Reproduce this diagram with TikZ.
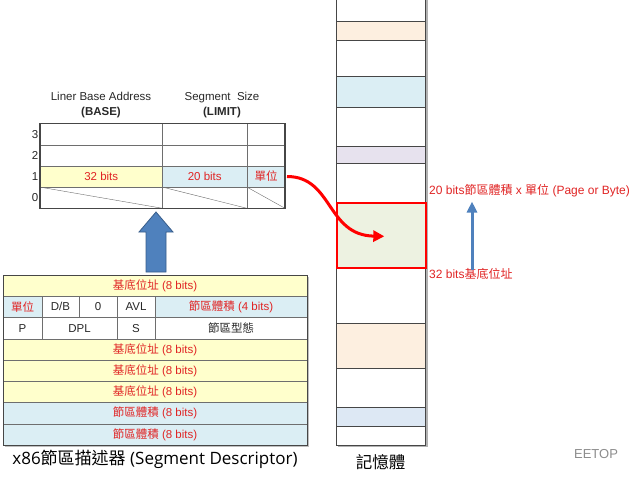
\documentclass[tikz,border=0pt]{standalone}
\usepackage{fontspec}
\setmainfont{Liberation Sans}
\newfontfamily\cjk{Noto Sans CJK TC}
\newfontfamily\capfont{Open Sans}
\newcommand\zh[1]{{\cjk #1}}
\usetikzlibrary{arrows.meta, calc, positioning}
\definecolor{redText}{RGB}{224,36,36}
\definecolor{inkGray}{RGB}{40,40,40}
\definecolor{lineGray}{RGB}{110,110,110}
\definecolor{edgeGray}{RGB}{70,70,70}
\definecolor{baseYellow}{RGB}{255,255,204}
\definecolor{sizeBlue}{RGB}{219,238,244}
\definecolor{memPeach}{RGB}{253,239,224}
\definecolor{memBlue}{RGB}{219,238,244}
\definecolor{memLilac}{RGB}{231,226,238}
\definecolor{memGreen}{RGB}{237,242,225}
\definecolor{memSky}{RGB}{221,232,244}
\definecolor{arrowBlue}{RGB}{79,129,189}
\definecolor{arrowEdge}{RGB}{56,93,138}

\begin{document}
\begin{tikzpicture}[x=1pt, y=-1pt,
  cell/.style={draw=lineGray, anchor=north west, minimum height=21.2pt,
               inner sep=0pt, outer sep=0pt,
               font=\fontsize{11.5}{13}\selectfont, text=inkGray},
  dcell/.style={cell, minimum height=21.25pt},
  hdr/.style={align=center, font=\fontsize{11.5}{15}\selectfont, text=inkGray},
  redtxt/.style={text=redText},
  memline/.style={draw=edgeGray, line width=0.7pt},
  bigup/.style={fill=arrowBlue, draw=arrowEdge, line width=0.8pt},
  thinup/.style={-{Triangle[length=11pt, width=10pt]}, line width=3pt, arrowBlue},
  curvy/.style={-{Triangle[length=11pt, width=11pt]}, line width=3pt, red}
]
  \useasboundingbox (0,0) rectangle (640,479);

  % limit / base table
  \node[hdr] (basehdr) at (101,105.5) {Liner Base Address\\\textbf{(BASE)}};
  \node[hdr] (limhdr) at (222,105.5) {Segment\ \ Size\\\textbf{(LIMIT)}};
  \foreach \r/\y in {3/123.5, 2/144.7, 0/187.1} {
    \node[cell, minimum width=122.5pt] (base\r) at (40,\y) {};
    \node[cell, minimum width=84.5pt] (lim\r) at (162.5,\y) {};
    \node[cell, minimum width=38pt] (unit\r) at (247,\y) {};
  }
  \node[cell, minimum width=122.5pt, fill=baseYellow, redtxt] (base1) at (40,165.9) {32 bits};
  \node[cell, minimum width=84.5pt, fill=sizeBlue, redtxt] (lim1) at (162.5,165.9) {20 bits};
  \node[cell, minimum width=38pt, fill=sizeBlue, redtxt] (unit1) at (247,165.9) {\zh{單位}};
  \foreach \r/\y in {3/123.5, 2/144.7, 1/165.9, 0/187.1}
    \node[anchor=east, inner sep=0pt, font=\fontsize{11.5}{13}\selectfont, text=inkGray] at (38.5,\y+10.6) {\r};
  \foreach \c in {base0, lim0, unit0}
    \draw[lineGray, thin] (\c.north west) -- (\c.south east);
  \draw[edgeGray, line width=1.1pt] (base3.north west) rectangle (unit0.south east);

  % big arrow
  \coordinate (uptip) at (156,212);
  \coordinate (upbase) at (156,272);
  \draw[bigup] ($(upbase)+(-10,0)$) -- ($(uptip)+(-10,20)$) -- ($(uptip)+(-17,20)$)
    -- (uptip) -- ($(uptip)+(17,20)$) -- ($(uptip)+(10,20)$) -- ($(upbase)+(10,0)$) -- cycle;

  % segment descriptor
  \fill[black!25] (5,277) rectangle (309,447);
  \foreach \k/\f in {0/baseYellow, 3/baseYellow, 4/baseYellow, 5/baseYellow, 6/sizeBlue, 7/sizeBlue}
    \node[dcell, minimum width=304pt, fill=\f, redtxt]
      (row\k) at (3,275+21.25*\k) {\ifnum\k<6 \zh{基底位址} (8 bits)\else \zh{節區體積} (8 bits)\fi};
  \node[dcell, minimum width=39pt, fill=sizeBlue, redtxt] (gran) at (3,296.25) {\zh{單位}};
  \node[dcell, minimum width=37pt, fill=white] (db) at (42,296.25) {D/B};
  \node[dcell, minimum width=38pt, fill=white] (zero) at (79,296.25) {0};
  \node[dcell, minimum width=38pt, fill=white] (avl) at (117,296.25) {AVL};
  \node[dcell, minimum width=152pt, fill=sizeBlue, redtxt] (lim4) at (155,296.25) {\zh{節區體積} (4 bits)};
  \node[dcell, minimum width=39pt, fill=white] (pres) at (3,317.5) {P};
  \node[dcell, minimum width=75pt, fill=white] (dpl) at (42,317.5) {DPL};
  \node[dcell, minimum width=38pt, fill=white] (sys) at (117,317.5) {S};
  \node[dcell, minimum width=152pt, fill=white] (stype) at (155,317.5) {\zh{節區型態}};
  \draw[edgeGray, line width=0.9pt] (row0.north west) rectangle (row7.south east);
  \node[font=\capfont\fontsize{17}{20}\selectfont, text=black] (desccap) at (155,459)
    {x86\zh{節區描述器} (Segment Descriptor)};

  % memory
  \foreach \a/\b/\f in {0/21/white, 21/40/memPeach, 40/76/white, 76/107/memBlue,
                        107/146/white, 146/163/memLilac, 163/202/white, 267/323/white,
                        323/368/memPeach, 368/407/white, 407/426/memSky, 426/445/white}
    \fill[\f] (336,\a) rectangle (425,\b);
  \foreach \b in {21, 40, 76, 107, 146, 163, 323, 368, 407, 426}
    \draw[memline] (336,\b) -- (425,\b);
  \draw[black!30, line width=1.5pt] (427,0) -- (427,446.5) -- (338,446.5);
  \draw[edgeGray, line width=0.8pt] (336,0) -- (336,445) -- (425,445) -- (425,0);
  \node[draw=red, line width=1.6pt, fill=memGreen, anchor=north west,
        minimum width=89pt, minimum height=65pt, inner sep=0pt] (segbox) at (336,202) {};
  \node[font=\cjk\fontsize{16.5}{19}\selectfont, text=black] (memcap) at (380.5,462) {記憶體};

  % range labels
  \node[redtxt, anchor=west, inner sep=1pt, font=\fontsize{12}{14}\selectfont] (sizetxt) at (428,191)
    {20 bits\zh{節區體積} x \zh{單位} (Page or Byte)};
  \node[redtxt, anchor=west, inner sep=1pt, font=\fontsize{12}{14}\selectfont] (basetxt) at (428,274)
    {32 bits\zh{基底位址}};
  \draw[thinup] ([xshift=44pt, yshift=-3pt]basetxt.north west) -- ([xshift=44pt, yshift=-3pt]sizetxt.south west);

  % unit to memory
  \draw[curvy] ([xshift=2pt]unit1.east) .. controls ($(unit1.east)+(48,0)$) and ($(segbox.center)+(-55,0)$) .. ([xshift=3pt, yshift=-1pt]segbox.center);

  % watermark
  \node[text=black!45, font=\fontsize{13}{15}\selectfont] (mark) at (596,454) {EETOP};
\end{tikzpicture}
\end{document}
